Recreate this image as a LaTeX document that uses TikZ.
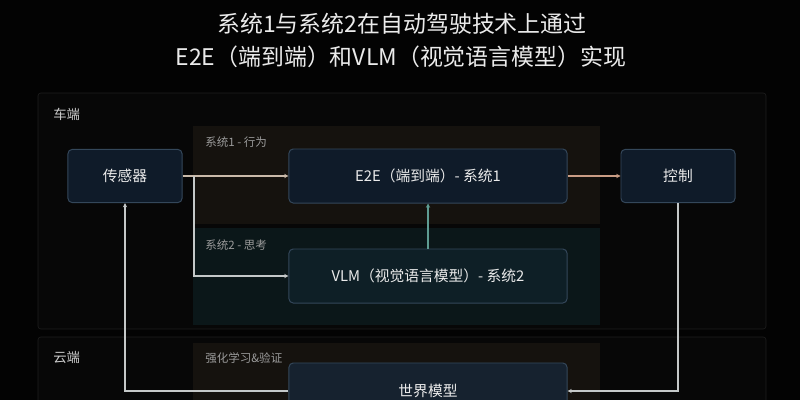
\documentclass[tikz,border=0pt]{standalone}
\usepackage{fontspec}
\setmainfont{Noto Sans CJK SC}
\usetikzlibrary{arrows.meta,positioning}

\definecolor{bg}{HTML}{030303}
\definecolor{outerfill}{HTML}{070707}
\definecolor{outerline}{HTML}{1E1E1E}
\definecolor{warmpanel}{HTML}{15120E}
\definecolor{tealpanel}{HTML}{0B1719}
\definecolor{boxfill}{HTML}{0F1B29}
\definecolor{boxline}{HTML}{34475A}
\definecolor{vlmfill}{HTML}{0E1F26}
\definecolor{worldfill}{HTML}{16222F}
\definecolor{warmline}{HTML}{C9B9A9}
\definecolor{orangeline}{HTML}{C99C84}
\definecolor{tealline}{HTML}{5E9C92}
\definecolor{greyline}{HTML}{C4C8C8}
\definecolor{labelgrey}{HTML}{9A9A9A}

\begin{document}
\begin{tikzpicture}[x=0.025cm,y=-0.025cm,
  box/.style={draw=boxline,line width=0.7pt,fill=boxfill,rounded corners=3pt,
    text=white!92!black,font=\fontsize{10.5}{12}\selectfont},
  small/.style={anchor=west,inner sep=0pt,text=labelgrey,font=\fontsize{8.2}{10}\selectfont},
  area/.style={anchor=west,inner sep=0pt,text=white!80!black,font=\fontsize{9.5}{11}\selectfont},
  link/.style={line width=0.8pt,-{Stealth[length=3pt,width=3pt]}}]

  \useasboundingbox (0,0) rectangle (800,400);
  \fill[bg] (0,0) rectangle (800,400);

  \draw (402,24) node[text=white!92!black,font=\fontsize{16.3}{18}\selectfont] {系统1与系统2在自动驾驶技术上通过};
  \draw (401,57) node[text=white!92!black,font=\fontsize{16.3}{18}\selectfont] {E2E（端到端）和VLM（视觉语言模型）实现};

  \draw[outerline,fill=outerfill,rounded corners=2pt] (38,93) rectangle (766,329);
  \draw[outerline,fill=outerfill,rounded corners=2pt] (38,337) rectangle (766,412);
  \fill[warmpanel] (193,126) rectangle (600,224);
  \fill[tealpanel] (193,228) rectangle (600,325);
  \fill[warmpanel] (193,343) rectangle (600,412);

  \node[area] (CarLbl) at (53,114) {车端};
  \node[area] (CloudLbl) at (53,357) {云端};
  \node[small] (Sys1Lbl) at (205,142) {系统1 - 行为};
  \node[small] (Sys2Lbl) at (205,245) {系统2 - 思考};
  \node[small] (RLLbl) at (205,358) {强化学习\&验证};

  \node[box,minimum width=2.85cm,minimum height=1.33cm] (S) at (125,176) {传感器};
  \node[box,minimum width=6.95cm,minimum height=1.35cm] (E) at (428,176) {E2E（端到端）- 系统1};
  \node[box,fill=vlmfill,minimum width=6.95cm,minimum height=1.35cm] (V) at (428,276) {VLM（视觉语言模型）- 系统2};
  \node[box,minimum width=2.85cm,minimum height=1.33cm] (C) at (678,176) {控制};
  \node[box,fill=worldfill,minimum width=6.95cm,minimum height=1.4cm] (W) at (428,391) {世界模型};

  \coordinate (J) at (194,176);
  \draw[link,warmline] (S) -- (E);
  \draw[link,greyline] (J) |- (V);
  \draw[link,tealline] (V) -- (E);
  \draw[link,orangeline] (E) -- (C);
  \draw[link,greyline] (C) |- (W);
  \draw[link,greyline] (W) -| (S);

\end{tikzpicture}
\end{document}
